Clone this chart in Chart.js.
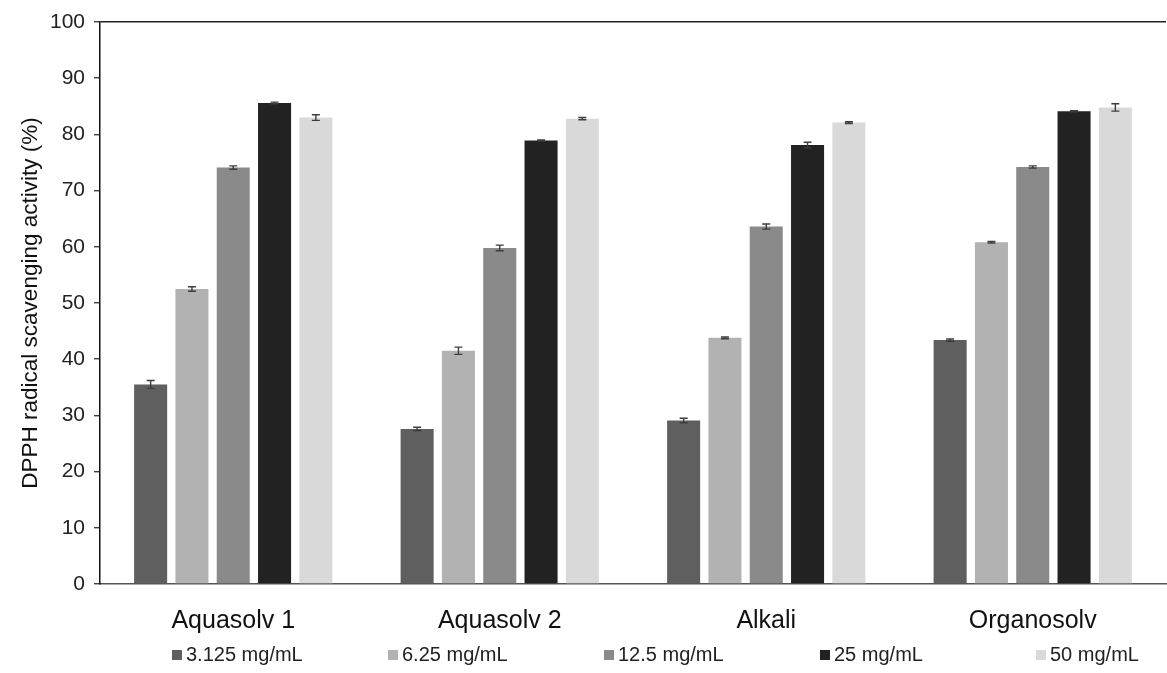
<!DOCTYPE html>
<html>
<head>
<meta charset="utf-8">
<script src="https://cdn.jsdelivr.net/npm/chart.js@4.4.1/dist/chart.umd.min.js"></script>
<style>
  html, body { margin: 0; padding: 0; background: #fff; }
  #wrap { position: relative; width: 1167px; height: 673px; }
  canvas { display: block; }
  #legend {
    position: absolute; left: 0; top: 643px; width: 1167px;
    display: flex; padding-left: 172px; box-sizing: border-box;
    font-family: "Liberation Sans", Arial, sans-serif; font-size: 20px; color: #222;
  }
  #legend .item { flex: 0 0 216px; display: flex; align-items: center; white-space: nowrap; }
  #legend .box { width: 10px; height: 10px; margin-right: 4px; }
</style>
</head>
<body>
<div id="wrap">
  <canvas id="c" width="1167" height="673"></canvas>
  <div id="legend"></div>
</div>
<script>
// Lignin samples and DPPH concentrations
const categories = ['Aquasolv 1', 'Aquasolv 2', 'Alkali', 'Organosolv'];
const seriesNames = ['3.125 mg/mL', '6.25 mg/mL', '12.5 mg/mL', '25 mg/mL', '50 mg/mL'];

// Mean scavenging activity (%) per concentration, one value per sample
const conc3125 = [35.5, 27.6, 29.1, 43.4];
const conc625  = [52.5, 41.5, 43.8, 60.8];
const conc125  = [74.1, 59.8, 63.6, 74.2];
const conc25   = [85.6, 78.9, 78.1, 84.1];
const conc50   = [83.0, 82.8, 82.1, 84.8];

// Standard deviations
const err3125 = [0.7, 0.3, 0.4, 0.2];
const err625  = [0.4, 0.65, 0.15, 0.15];
const err125  = [0.3, 0.5, 0.45, 0.2];
const err25   = [0.15, 0.1, 0.5, 0.1];
const err50   = [0.5, 0.2, 0.15, 0.65];

const yTicks = [0, 10, 20, 30, 40, 50, 60, 70, 80, 90, 100];

const values = [conc3125, conc625, conc125, conc25, conc50];
const errors = [err3125, err625, err125, err25, err50];
const colors = ['#5f5f5f', '#b2b2b2', '#8a8a8a', '#222222', '#d9d9d9'];

const FONT = '"Liberation Sans", Arial, sans-serif';

// Error bars drawn through the value scale
const errorBars = {
  id: 'errorBars',
  afterDatasetsDraw(chart) {
    const ctx = chart.ctx;
    const y = chart.scales.y;
    ctx.save();
    ctx.strokeStyle = '#3c3c3c';
    ctx.lineWidth = 1.4;
    chart.data.datasets.forEach((ds, di) => {
      const meta = chart.getDatasetMeta(di);
      meta.data.forEach((bar, i) => {
        const v = ds.data[i], e = ds.errors[i];
        const top = y.getPixelForValue(v + e);
        const bot = y.getPixelForValue(v - e);
        const x = bar.x, cap = 4;
        ctx.beginPath();
        ctx.moveTo(x, top); ctx.lineTo(x, bot);
        ctx.moveTo(x - cap, top); ctx.lineTo(x + cap, top);
        ctx.moveTo(x - cap, bot); ctx.lineTo(x + cap, bot);
        ctx.stroke();
      });
    });
    ctx.restore();
  }
};

const chart = new Chart(document.getElementById('c'), {
  type: 'bar',
  data: {
    labels: categories,
    datasets: seriesNames.map((name, k) => ({
      label: name,
      data: values[k],
      errors: errors[k],
      backgroundColor: colors[k],
      borderWidth: 0,
      categoryPercentage: 0.775,
      barPercentage: 0.8
    }))
  },
  options: {
    responsive: false,
    animation: false,
    layout: { padding: { top: 22, right: 1, left: 0, bottom: 0 } },
    plugins: {
      legend: { display: false },
      tooltip: { enabled: false }
    },
    scales: {
      x: {
        grid: { display: false, drawTicks: false },
        border: { color: '#555', width: 1.5 },
        ticks: {
          color: '#111',
          font: { family: FONT, size: 25 },
          padding: 22
        },
        afterFit(scale) { scale.height = 89; }
      },
      y: {
        min: 0, max: 100,
        afterBuildTicks(scale) { scale.ticks = yTicks.map(v => ({ value: v })); },
        grid: {
          drawOnChartArea: true,
          color: ctx => (ctx.tick && ctx.tick.value === 100) ? '#222' : 'rgba(0,0,0,0)',
          lineWidth: 1.5,
          tickColor: '#222',
          tickLength: 6,
          tickWidth: 1.2
        },
        border: { color: '#111', width: 1.5 },
        ticks: {
          color: '#222',
          font: { family: FONT, size: 21 },
          padding: 9
        },
        title: {
          display: true,
          text: 'DPPH radical scavenging activity (%)',
          color: '#111',
          font: { family: FONT, size: 22.5 },
          padding: { top: 17, bottom: 0 }
        },
        afterFit(scale) { scale.width = 100; }
      }
    }
  },
  plugins: [errorBars]
});

// Legend row
const legend = document.getElementById('legend');
seriesNames.forEach((name, k) => {
  const item = document.createElement('div');
  item.className = 'item';
  const box = document.createElement('span');
  box.className = 'box';
  box.style.background = colors[k];
  const txt = document.createElement('span');
  txt.textContent = name;
  item.appendChild(box);
  item.appendChild(txt);
  legend.appendChild(item);
});
</script>
</body>
</html>
